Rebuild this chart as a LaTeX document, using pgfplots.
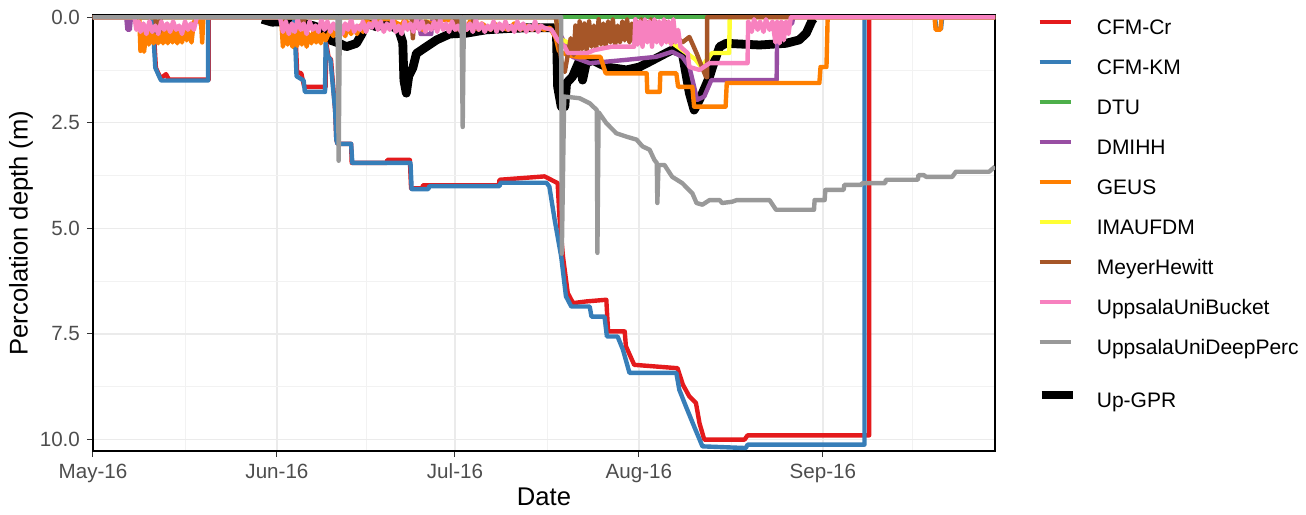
\documentclass[border=0pt]{standalone}
\usepackage{pgfplots}
\pgfplotsset{compat=1.18}
\usepackage{fontspec}
\setmainfont{Liberation Sans}

\definecolor{cCr}{HTML}{E41A1C}
\definecolor{cKM}{HTML}{377EB8}
\definecolor{cDTU}{HTML}{4DAF4A}
\definecolor{cDMI}{HTML}{984EA3}
\definecolor{cGEUS}{HTML}{FF7F00}
\definecolor{cIMAU}{HTML}{FFFF33}
\definecolor{cMH}{HTML}{A65628}
\definecolor{cUB}{HTML}{F781BF}
\definecolor{cUD}{HTML}{999999}
\definecolor{tickgrey}{HTML}{4D4D4D}

\pgfplotsset{
    keylegend/.style={
        legend image code/.code={\draw[##1, line cap=butt] (0pt,3.6pt) -- (15.5pt,3.6pt);},
        legend cell align=left,
        legend style={draw=none, fill=none, inner sep=0pt, anchor=north west,
            font=\fontsize{10.5}{12}\selectfont,
            column sep=12pt, row sep=10.3pt,
            nodes={inner sep=0pt, text height=7.5pt, text depth=2.2pt},
            cells={anchor=west}},
    },
}

\begin{document}
\begin{tikzpicture}
\useasboundingbox (-46.5pt,-31.5pt) rectangle (606.5pt,225.5pt);
\begin{axis}[
    at={(0,0)}, anchor=south west,
    scale only axis,
    width=451pt, height=218pt,
    xmin=0, xmax=152,
    ymin=-0.05, ymax=10.27,
    y dir=reverse,
    axis line style={black, line width=1.3pt},
    tick align=outside,
    xtick pos=bottom, ytick pos=left,
    major tick length=3pt,
    minor tick length=0pt,
    tick style={black!80, line width=0.5pt},
    xtick={0,31,61,92,123},
    xticklabels={May-16,Jun-16,Jul-16,Aug-16,Sep-16},
    minor xtick={15.5,46,76.5,107.5,138},
    ytick={0,2.5,5,7.5,10},
    yticklabels={0.0,2.5,5.0,7.5,10.0},
    minor ytick={1.25,3.75,6.25,8.75},
    grid=both,
    major grid style={color=black!8, line width=0.7pt},
    minor grid style={color=black!5, line width=0.4pt},
    ticklabel style={font=\fontsize{10.3}{12}\selectfont, text=tickgrey},
    xlabel={Date},
    ylabel={Percolation depth (m)},
    every axis x label/.style={at={(axis description cs:0.5,-0.1055)}, anchor=center,
        font=\fontsize{12.8}{15}\selectfont},
    every axis y label/.style={at={(axis description cs:-0.0798,0.5)}, rotate=90, anchor=center,
        font=\fontsize{12.8}{15}\selectfont},
    keylegend,
    legend style={at={(1.0466,0.99)}},
    every axis plot/.append style={line width=2.2pt, line join=round},
]

% Up-GPR (drawn underneath)
\addplot[black, line width=4.4pt, forget plot] coordinates {
(28.5,0.05)(30.2,0.12)(33,0.1)(37,0.2)(39.2,0.3)(39.9,0.54)(41.5,0.62)(42.7,0.7)
(44.4,0.62)(45.3,0.4)(46.1,0.15)(47.8,0.23)(49.4,0.15)(51.5,0.3)(52.2,0.6)(52.4,1.5)
(52.8,1.8)(53.2,1.4)(53.9,1.2)(54.5,0.86)(56.2,0.7)(57.9,0.54)(60.1,0.4)(62.9,0.38)
(66.3,0.3)(70,0.27)(74,0.25)(77.5,0.25)(78.1,0.38)(78.3,1.65)(78.9,2.12)(79.5,2.12)
(79.8,1.56)(80.8,1.41)(82,1.02)(82.5,1.49)(83.1,1.09)(84.2,1.02)(86.5,1.18)(89.9,1.25)
(92.1,1.18)(94.3,1.02)(96.6,0.85)(97.6,0.78)(99.3,0.85)(100.5,1.8)(101.3,2.2)(102.2,1.96)
(102.7,1.8)(103.9,1.41)(104.4,1.18)(105.6,0.7)(106.7,0.62)(112.3,0.66)(116.8,0.62)
(119,0.54)(120.2,0.38)(121.2,0.07)(121.5,0.03)
};

% CFM-Cr
\addplot[cCr] coordinates {
(0,0)(10.1,0)(10.6,1.2)(11.4,1.45)(12.3,1.35)(12.8,1.48)(19.5,1.48)(19.5,0)
(34.0,0)(34.4,1.3)(35.1,1.33)(35.6,1.65)(39.2,1.65)(39.3,0.62)(39.7,0.95)(40.1,1.0)
(40.8,2.2)(41.0,2.9)(41.2,3.0)(43.5,3.0)(43.6,3.45)(49.5,3.45)(49.6,3.38)(53.4,3.38)
(53.6,4.05)(55.5,4.05)(55.6,3.98)(68.4,3.98)(68.5,3.85)(76.1,3.77)(78.3,3.93)(78.6,4.72)
(79.2,5.67)(80.0,6.53)(80.9,6.77)(83.1,6.73)(86.5,6.69)(86.8,7.44)(89.6,7.44)(89.8,7.79)
(91.2,8.23)(98.5,8.31)(99.4,8.70)(100.5,8.98)(101.6,9.13)(102.2,9.61)(103.0,10.0)
(109.8,10.0)(110.3,9.9)(130.8,9.9)(130.8,0)(152,0)
};
\addlegendentry{CFM-Cr}

% CFM-KM
\addplot[cKM] coordinates {
(0,0)(10.0,0)(10.5,1.2)(11.3,1.45)(11.5,1.5)(19.4,1.5)(19.4,0)
(33.9,0)(34.3,1.4)(35.5,1.5)(35.7,1.77)(39.1,1.77)(39.2,0.62)(39.6,0.95)(40.0,1.0)
(40.8,2.2)(41.0,2.9)(41.2,3.0)(43.5,3.0)(43.7,3.45)(53.5,3.45)(53.7,4.07)(56.5,4.07)
(56.7,4.0)(68.5,4.0)(68.7,3.92)(76.4,3.92)(76.9,4.01)(77.8,4.80)(78.9,5.67)(79.7,6.61)
(80.6,6.85)(83.7,6.85)(84.0,7.09)(86.2,7.09)(86.6,7.56)(88.4,7.56)(89.3,7.87)(90.4,8.42)
(98.3,8.42)(98.8,8.82)(99.9,9.21)(101.3,9.69)(102.7,10.16)(110.0,10.2)(110.3,10.12)
(130.0,10.12)(130.0,0)(141.9,0)(142.1,0.28)(142.9,0.28)(143.1,0)(152,0)
};
\addlegendentry{CFM-KM}

% DTU
\addplot[cDTU] coordinates {(0,0)(152,0)};
\addlegendentry{DTU}

% DMIHH
\addplot[cDMI] coordinates {
(0,0)(5.6,0)(5.8,0.3)(6.2,0.3)(6.4,0)(18,0)(18.2,0.2)(18.5,0)(55,0)(55.2,0.4)(57,0.4)
(57.2,0)(78.1,0)(78.6,0.38)(80.8,0.94)(83.7,1.09)(89.2,1.02)(94.9,0.94)(97.6,0.82)
(99.3,0.94)(100.5,1.18)(101.3,1.65)(101.8,1.96)(103.0,1.88)(104.2,1.49)(115.2,1.49)
(115.3,0.25)(117.8,0.15)(118,0)(152,0)
};
\addlegendentry{DMIHH}

% GEUS
\addplot[cGEUS] coordinates {
(0,0)(7.8,0)(8,0.8)(8.3,0.3)(8.6,0.82)(9,0.35)(9.4,0.65)(9.8,0.3)(10.2,0.62)(10.6,0.4)
(11,0.62)(11.4,0.25)(11.8,0.62)(12.2,0.3)(12.6,0.62)(13,0.2)(13.4,0.6)(13.8,0.3)
(14.2,0.62)(14.6,0.35)(15,0.6)(15.4,0.2)(15.8,0.55)(16.2,0.3)(16.6,0.6)(17,0.1)
(18.2,0.1)(18.4,0.6)(18.6,0)(31.7,0)
(32,0.7)(32.4,0.3)(32.8,0.65)(33.2,0.35)(33.6,0.7)(34,0.4)(34.4,0.68)(34.8,0.3)
(35.2,0.65)(35.6,0.35)(36,0.7)(36.4,0.4)(36.8,0.62)(37.2,0.3)(37.6,0.6)(38,0.35)
(38.4,0.62)(38.8,0.4)(39.2,0.55)(40,0.3)(40.5,0.45)(41,0.25)(41.5,0.45)(42,0.3)
(42.5,0.45)(43,0.2)(43.5,0.4)(44,0.25)(44.5,0.4)(45,0.2)(45.5,0.35)(46,0.1)(47,0.15)
(48,0.05)(50,0.05)(52,0.2)(52.5,0.05)(54,0.3)(54.5,0.1)(55.5,0.3)(56,0.1)(58,0.2)
(58.5,0.05)(62,0.1)(63,0.3)(63.5,0.1)(65,0.3)(65.5,0.15)(67,0.3)(67.5,0.15)(69,0.25)
(70,0.3)(71,0.15)(72,0.3)(73,0.2)(74,0.3)(75,0.2)(76,0.3)(77,0.25)
(78,0.5)(78.5,0.8)(80,0.9)(82,0.95)(84.5,0.94)(85.5,0.94)(86.4,1.33)(93.3,1.33)
(93.4,1.77)(95.5,1.77)(95.6,1.33)(98.3,1.33)(98.6,1.65)(101,1.65)(101.3,2.12)
(106.6,2.12)(106.8,1.56)(122.4,1.56)(122.6,1.18)(123.6,1.18)(123.8,0)(141.8,0)
(142,0.3)(142.8,0.3)(143,0)(152,0)
};
\addlegendentry{GEUS}

% IMAUFDM
\addplot[cIMAU] coordinates {
(0,0)(78,0)(78.5,0.5)(80,0.6)(82,0.7)(84,0.65)(86,0.55)(88,0.5)(90,0.45)(92,0.4)
(94,0.35)(96,0.5)(98,0.65)(100,0.85)(101.5,1.0)(102.5,1.18)(103.5,1.0)(104.3,0.85)
(107.2,0.85)(107.3,0)(152,0)
};
\addlegendentry{IMAUFDM}

% MeyerHewitt
\addplot[cMH] coordinates {
(0,0)(10.5,0)(10.7,0.35)(11.2,0.35)(11.4,0)(35.2,0)(35.4,0.2)(35.7,0)(53.7,0)(53.9,0.5)
(54.2,0)(54.5,0.25)(56,0.1)(57.5,0.25)(58,0)(61,0)(61.3,0.3)(61.6,0)(64,0)(64.3,0.3)
(64.6,0)(78,0)
(78.5,0.6)(79,1.1)(79.5,1.3)(80,0.9)(80.5,0.5)(81,0.9)(81.3,0.2)(81.7,0.8)(82,0.1)
(82.4,0.75)(82.8,0.15)(83.2,0.8)(83.6,0.1)(84,0.7)(84.4,0.2)(84.8,0.75)(85.2,0.05)
(85.6,0.65)(86,0.15)(86.4,0.7)(86.8,0.1)(87.2,0.6)(87.6,0.05)(88,0.65)(88.4,0.2)
(88.8,0.6)(89.2,0.1)(89.6,0.55)(90,0.05)(90.4,0.6)(90.8,0.15)(91.2,0.55)(91.6,0.1)
(92,0.6)(92.4,0.05)(92.8,0.5)(93.2,0.1)(93.6,0.55)(94,0.05)(94.4,0.5)(94.8,0.1)
(95.2,0.55)(95.6,0.15)(96,0.5)(96.4,0.1)(96.8,0.55)(97.2,0.2)(97.6,0.6)(98,0.3)
(98.6,0.5)(99.3,0.6)(100.5,0.47)(101.7,0.85)(103.3,1.42)(103.5,1.42)(103.5,0)(152,0)
};
\addlegendentry{MeyerHewitt}

% UppsalaUniBucket
\addplot[cUB] coordinates {
(0,0)(7,0)(7.3,0.3)(7.7,0.1)(8,0.35)(8.5,0.15)(9,0.4)(9.5,0.1)(10,0.35)(10.5,0.2)
(11,0.4)(11.5,0.1)(12,0.3)(12.5,0.15)(13,0.35)(13.5,0.1)(14,0.3)(14.5,0.2)(15,0.4)
(15.5,0.1)(16,0.3)(16.5,0.15)(17,0.3)(17.5,0)(31.5,0)
(32,0.35)(32.5,0.1)(33,0.4)(33.5,0.15)(34,0.35)(34.5,0.05)(35,0.3)(35.5,0.15)(36,0.4)
(36.5,0.1)(37,0.3)(37.5,0.2)(38,0.35)(38.5,0.05)(39,0.3)(39.5,0.1)(40,0.35)(40.5,0.15)
(41,0.3)(41.5,0.1)(42,0.4)(42.5,0.15)(43,0.3)(43.5,0.05)(44,0.35)(44.5,0.2)(45,0.3)
(45.5,0.1)(46,0.35)(46.5,0.15)(47,0.25)(47.5,0.05)(48,0.3)(48.5,0.1)(49,0.35)(49.5,0.15)
(50,0.3)(50.5,0.05)(51,0.35)(51.5,0.2)(52,0.4)(52.5,0.1)(53,0.3)(53.5,0.15)(54,0.35)
(54.5,0.05)(55,0.3)(55.5,0.1)(56,0.35)(56.5,0.2)(57,0.3)(57.5,0.1)(58,0.35)(58.5,0.05)
(59,0.3)(59.5,0.15)(60,0.35)(60.5,0.1)(61,0.3)(61.5,0.2)(62,0.35)(62.5,0.1)(63,0.3)
(63.5,0.15)(64,0.35)(64.5,0.05)(65,0.3)(65.5,0.15)(66,0.35)(66.5,0.2)(67,0.3)(67.5,0.1)
(68,0.35)(68.5,0.15)(69,0.3)(69.5,0.1)(70,0.3)(70.5,0.2)(71,0.35)(71.5,0.1)(72,0.3)
(72.5,0.15)(73,0.35)(73.5,0.2)(74,0.3)(74.5,0.1)(75,0.35)(75.5,0.2)(76,0.25)
(77.3,0.3)(78.3,0.54)(79.5,0.7)(80,0.85)(83.3,0.85)(84.5,0.78)(87.4,0.7)(91.2,0.7)
(91.4,0.05)(91.8,0.65)(92.2,0.1)(92.6,0.7)(93,0.05)(93.4,0.6)(93.8,0.1)(94.2,0.7)
(94.6,0.05)(95,0.6)(95.4,0.1)(95.8,0.65)(96.2,0.05)(96.6,0.6)(97,0.1)(97.4,0.65)
(97.8,0.05)(98.2,0.6)(98.6,0.3)(99,0.7)(100.2,0.85)(100.5,1.18)(102.2,1.25)(103.9,1.09)
(110.3,1.09)(110.4,0.1)(111,0.35)(111.4,0.05)(112,0.3)(112.4,0.1)(113,0.35)(113.4,0.05)
(114,0.3)(114.5,0.1)(115,0.6)(115.3,0.1)(115.7,0.62)(116,0.1)(116.4,0.55)(116.8,0.1)
(117.2,0.4)(117.6,0)(152,0)
};
\addlegendentry{UppsalaUniBucket}

% UppsalaUniDeepPerc
\addplot[cUD] coordinates {
(0,0)(41.2,0)(41.4,3.4)(41.6,0)(62.1,0)(62.3,2.6)(62.5,0)(78.9,0)(79.0,5.6)(79.4,1.88)
(82,1.92)(83.7,2.04)(84.9,2.2)(85.0,5.58)(85.2,2.25)(86.5,2.51)(88.2,2.75)(89.9,2.83)
(91.6,2.9)(92.6,3.06)(93.8,3.14)(94.6,3.38)(95.0,3.45)(95.1,4.4)(95.3,3.5)(96.3,3.5)
(97.6,3.78)(99.3,3.93)(101,4.17)(101.7,4.40)(102.7,4.44)(103.9,4.33)(105.6,4.33)
(106,4.4)(107.7,4.37)(108.5,4.33)(114,4.33)(115.1,4.56)(121.5,4.56)(121.6,4.33)
(123.3,4.33)(123.4,4.09)(126.5,4.09)(126.6,3.97)(129.5,3.97)(129.6,3.93)(133.5,3.93)
(133.6,3.85)(139,3.85)(139.1,3.74)(140,3.74)(140.4,3.78)(144.8,3.78)(145.4,3.66)
(151,3.66)(152,3.54)
};
\addlegendentry{UppsalaUniDeepPerc}
\end{axis}

% separate key for the observations
\begin{axis}[
    at={(0,0)}, anchor=south west,
    scale only axis,
    width=451pt, height=218pt,
    xmin=0, xmax=1, ymin=0, ymax=1,
    hide axis,
    keylegend,
    legend style={at={(1.0466,0.139)}, column sep=10pt},
]
\addlegendimage{black, line width=4.2pt}
\addlegendentry{Up-GPR}
\end{axis}
\end{tikzpicture}
\end{document}
